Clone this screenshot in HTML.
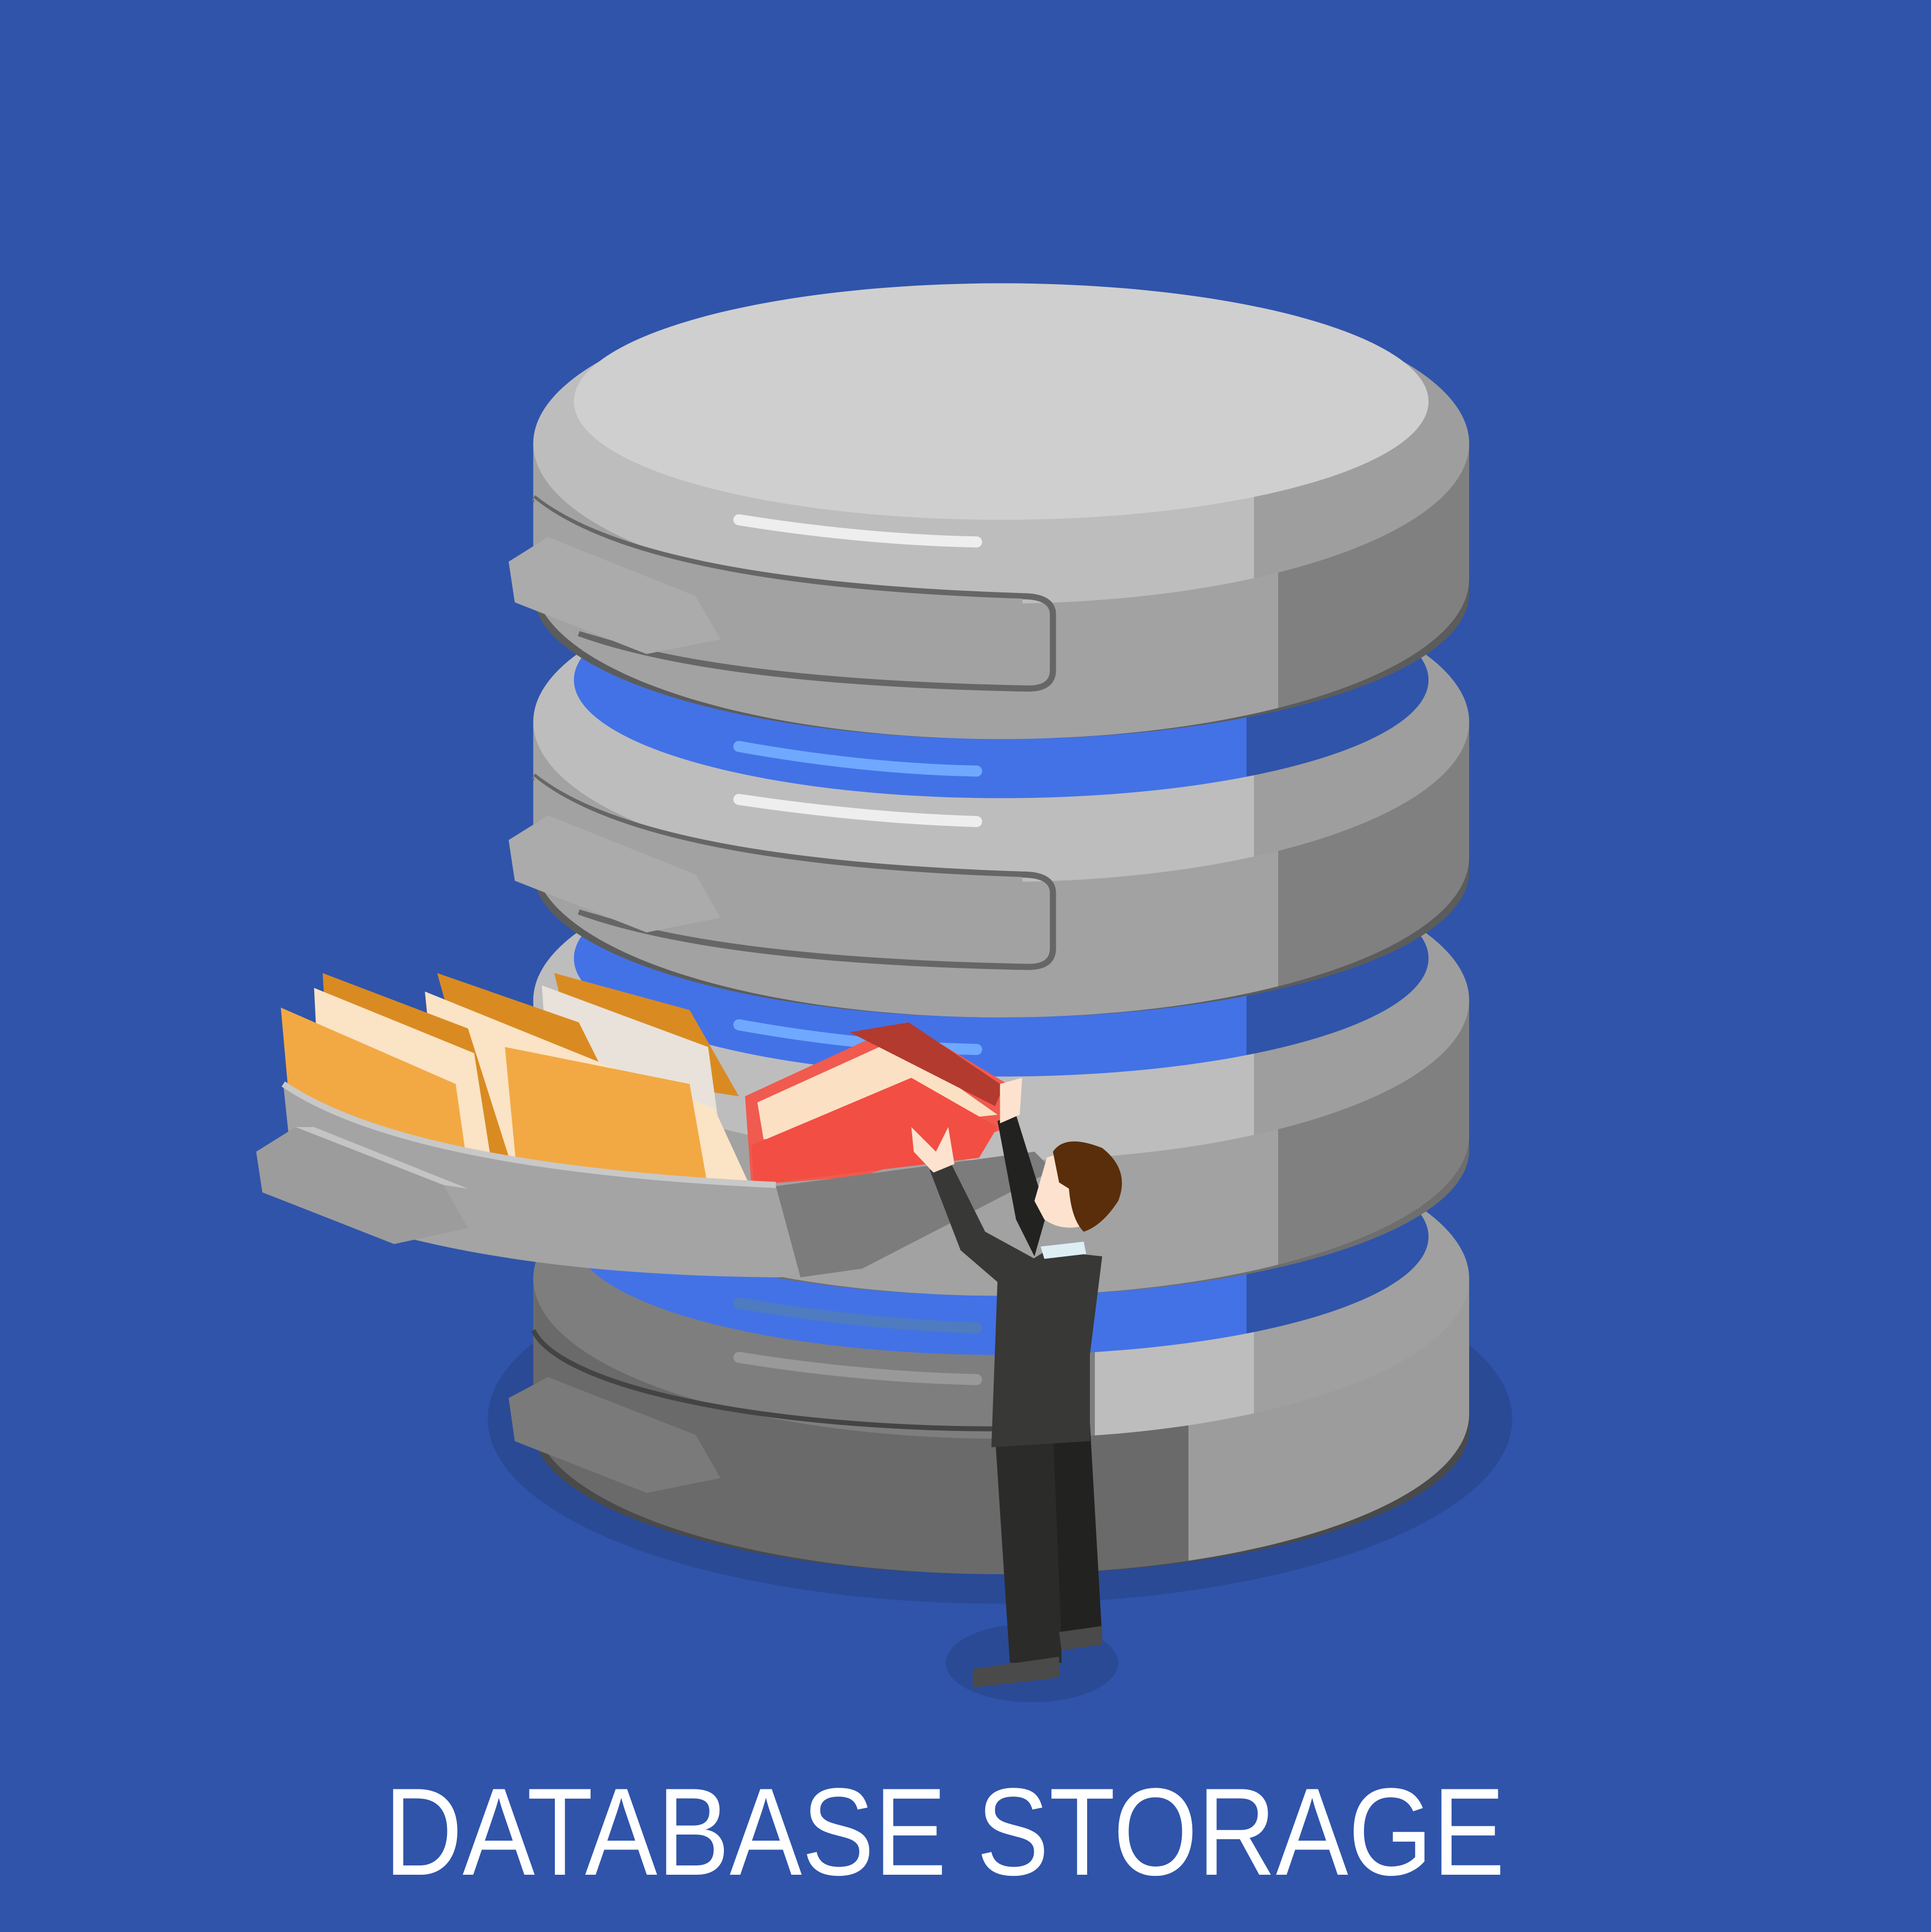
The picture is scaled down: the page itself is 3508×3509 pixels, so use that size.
<!DOCTYPE html>
<html><head><meta charset="utf-8"><style>
html,body{margin:0;padding:0;background:#2F54AA;}
svg{display:block}
</style></head><body>
<svg width="3508" height="3509" viewBox="0 0 1568 1568.5" xmlns="http://www.w3.org/2000/svg">
<defs>
<linearGradient id="side" x1="433" x2="1193" gradientUnits="userSpaceOnUse">
<stop offset="0" stop-color="#A2A2A2"/><stop offset="0.796" stop-color="#A2A2A2"/><stop offset="0.796" stop-color="#808080"/><stop offset="1" stop-color="#808080"/></linearGradient>
<linearGradient id="rim" x1="433" x2="1193" gradientUnits="userSpaceOnUse">
<stop offset="0" stop-color="#BDBDBD"/><stop offset="0.77" stop-color="#BDBDBD"/><stop offset="0.77" stop-color="#9E9E9E"/><stop offset="1" stop-color="#9E9E9E"/></linearGradient>
<linearGradient id="blue" x1="466" x2="1160" gradientUnits="userSpaceOnUse">
<stop offset="0" stop-color="#4372E6"/><stop offset="0.787" stop-color="#4372E6"/><stop offset="0.787" stop-color="#2F54AA"/><stop offset="1" stop-color="#2F54AA"/></linearGradient>
<linearGradient id="sideD" x1="433" x2="1193" gradientUnits="userSpaceOnUse">
<stop offset="0" stop-color="#6A6A6A"/><stop offset="0.7" stop-color="#6A6A6A"/><stop offset="0.7" stop-color="#9C9C9C"/><stop offset="1" stop-color="#9C9C9C"/></linearGradient>
<linearGradient id="rimD" x1="433" x2="1193" gradientUnits="userSpaceOnUse">
<stop offset="0" stop-color="#7E7E7E"/><stop offset="0.6" stop-color="#7E7E7E"/><stop offset="0.6" stop-color="#BDBDBD"/><stop offset="0.77" stop-color="#BDBDBD"/><stop offset="0.77" stop-color="#A0A0A0"/><stop offset="1" stop-color="#A0A0A0"/></linearGradient>
</defs>
<rect width="1568" height="1568.5" fill="#2F54AA"/>
<ellipse cx="812" cy="1152" rx="416" ry="150" fill="#2A4A96"/>

<!-- tier 4 -->
<g>
<path d="M433,1038 L433,1148 A380,130 0 0 0 1193,1148 L1193,1038 Z" fill="url(#sideD)"/>
<path d="M433,1148 A380,130 0 0 0 1193,1148 L1193,1160 A380,118 0 0 1 433,1160 Z" fill="#4a4a4a"/>
<ellipse cx="813" cy="1038" rx="380" ry="130" fill="url(#rimD)"/>
<path d="M433,1080 A380,90 0 0 0 820,1160" fill="none" stroke="#444" stroke-width="4"/>
<path d="M413,1135 L445,1118 L565,1165 L585,1200 L525,1212 L418,1170 Z" fill="#7a7a7a"/>
</g>
<ellipse cx="813" cy="1004" rx="347" ry="96" fill="url(#blue)"/>
<path d="M600,1058 Q700,1075 793,1078" stroke="#4F7BC0" stroke-width="9" stroke-linecap="round" fill="none"/>
<path d="M600,1102 Q700,1118 793,1120" stroke="#999" stroke-width="9" stroke-linecap="round" fill="none"/>

<!-- tier 3 -->
<path d="M433,812 L433,922 A380,130 0 0 0 1193,922 L1193,812 Z" fill="url(#side)"/>
<path d="M433,922 A380,130 0 0 0 1193,922 L1193,934 A380,118 0 0 1 433,934 Z" fill="#6e6e6e"/>
<ellipse cx="813" cy="812" rx="380" ry="130" fill="url(#rim)"/>
<ellipse cx="813" cy="778" rx="347" ry="96" fill="url(#blue)"/>
<path d="M600,832 Q700,850 793,852" stroke="#6FA9FF" stroke-width="9" stroke-linecap="round" fill="none"/>

<!-- tier 2 -->
<path d="M433,586 L433,696 A380,130 0 0 0 1193,696 L1193,586 Z" fill="url(#side)"/>
<path d="M433,696 A380,130 0 0 0 1193,696 L1193,708 A380,118 0 0 1 433,708 Z" fill="#5c5c5c"/>
<ellipse cx="813" cy="586" rx="380" ry="130" fill="url(#rim)"/>
<ellipse cx="813" cy="552" rx="347" ry="96" fill="url(#blue)"/>
<path d="M600,606 Q700,624 793,626" stroke="#6FA9FF" stroke-width="9" stroke-linecap="round" fill="none"/>
<path d="M600,649 Q700,664 793,667" stroke="#EEE" stroke-width="9" stroke-linecap="round" fill="none"/>
<path d="M433,630 Q520,700 830,710 Q855,710 855,725 L855,770 Q855,785 835,785 Q580,780 470,740" fill="none" stroke="#666" stroke-width="5"/>
<path d="M433,630 Q520,702 830,712 L835,780 Q580,775 460,735 Z" fill="#A2A2A2"/>
<path d="M413,682 L445,662 L565,710 L585,745 L525,757 L418,715 Z" fill="#ABABAB"/>

<!-- tier 1 -->
<path d="M433,360 L433,470 A380,130 0 0 0 1193,470 L1193,360 Z" fill="url(#side)"/>
<path d="M433,470 A380,130 0 0 0 1193,470 L1193,482 A380,118 0 0 1 433,482 Z" fill="#5c5c5c"/>
<ellipse cx="813" cy="360" rx="380" ry="130" fill="url(#rim)"/>
<ellipse cx="813" cy="326" rx="347" ry="96" fill="#CFCFCF"/>
<path d="M600,422 Q700,438 793,440" stroke="#EEE" stroke-width="9" stroke-linecap="round" fill="none"/>
<path d="M433,404 Q520,474 830,484 Q855,484 855,499 L855,544 Q855,559 835,559 Q580,554 470,514" fill="none" stroke="#666" stroke-width="5"/>
<path d="M433,404 Q520,476 830,486 L835,554 Q580,549 460,509 Z" fill="#A2A2A2"/>
<path d="M413,456 L445,436 L565,484 L585,519 L525,531 L418,489 Z" fill="#ABABAB"/>

<!-- folders -->
<g>
<path d="M450,790 L560,820 L600,890 L470,870 Z" fill="#D98B22"/>
<path d="M440,800 L575,850 L590,960 L450,950 Z" fill="#E9E2DA"/>
<path d="M355,790 L470,830 L505,900 L380,880 Z" fill="#D98B22"/>
<path d="M345,805 L580,900 L610,965 L360,955 Z" fill="#FBE3C5"/>
<path d="M410,850 L560,880 L575,965 L420,955 Z" fill="#F2A944"/>
<path d="M262,790 L380,835 L415,945 L270,930 Z" fill="#D98B22"/>
<path d="M255,802 L385,855 L400,950 L262,940 Z" fill="#FBE3C5"/>
<path d="M228,818 L370,880 L380,950 L238,930 Z" fill="#F2A944"/>
</g>
<!-- red book -->
<path d="M605,890 L735,830 L818,880 L820,915 L700,955 L610,962 Z" fill="#F05A4F"/>
<path d="M615,895 L725,845 L810,905 L620,925 Z" fill="#FCE0C4"/>
<path d="M610,930 L740,875 L810,915 L795,940 L612,962 Z" fill="#F24E43"/>
<path d="M690,838 L738,830 L815,882 L808,898 Z" fill="#B33A2E"/>

<!-- pulled drawer -->
<path d="M230,880 Q330,950 630,963 Q650,965 650,980 L650,1025 Q650,1037 630,1037 Q380,1035 240,975 Z" fill="#A4A4A4"/>
<path d="M630,963 L840,935 L855,950 L700,1030 L650,1037 Z" fill="#7C7C7C"/>
<path d="M230,880 Q330,948 630,962" fill="none" stroke="#C8C8C8" stroke-width="5"/>
<path d="M208,935 L240,915 L360,962 L380,997 L320,1010 L213,968 Z" fill="#9C9C9C"/>
<path d="M240,915 L360,962 L380,965 L255,915 Z" fill="#C4C4C4"/>

<!-- man -->
<ellipse cx="838" cy="1350" rx="70" ry="32" fill="#2A4A96"/>
<path d="M808,1165 L860,1160 L862,1350 L820,1350 Z" fill="#2B2B29"/>
<path d="M855,1160 L885,1155 L895,1330 L862,1335 Z" fill="#222220"/>
<path d="M790,1355 L860,1345 L860,1362 L790,1370 Z" fill="#4A4A4A"/>
<path d="M860,1325 L895,1320 L895,1335 L862,1340 Z" fill="#4A4A4A"/>
<path d="M810,1040 L850,1015 L895,1020 L885,1100 L885,1170 L805,1175 Z" fill="#383836"/>
<path d="M755,950 L770,940 L800,1000 L855,1030 L855,1055 L830,1058 L780,1015 Z" fill="#383836"/>
<path d="M810,910 L825,905 L850,985 L840,1020 L825,990 Z" fill="#222220"/>
<path d="M845,1012 L880,1008 L882,1018 L848,1022 Z" fill="#DDEEF5"/>
<path d="M740,915 L760,935 L770,915 L775,945 L758,952 L742,935 Z" fill="#FDE3CF"/>
<path d="M812,880 L830,875 L828,905 L812,912 Z" fill="#FDE3CF"/>
<path d="M850,940 Q870,930 880,960 L880,995 Q862,1000 848,990 L840,975 Z" fill="#FDE3CF"/>
<path d="M855,935 Q865,920 895,932 Q918,950 908,975 Q895,995 880,1000 Q870,990 868,965 L860,960 Z" fill="#5A2E0A"/>

<text x="312" y="1522" font-family="Liberation Sans, sans-serif" font-size="101" fill="#FFFFFF" textLength="910" lengthAdjust="spacingAndGlyphs">DATABASE STORAGE</text>
</svg>
</body></html>
